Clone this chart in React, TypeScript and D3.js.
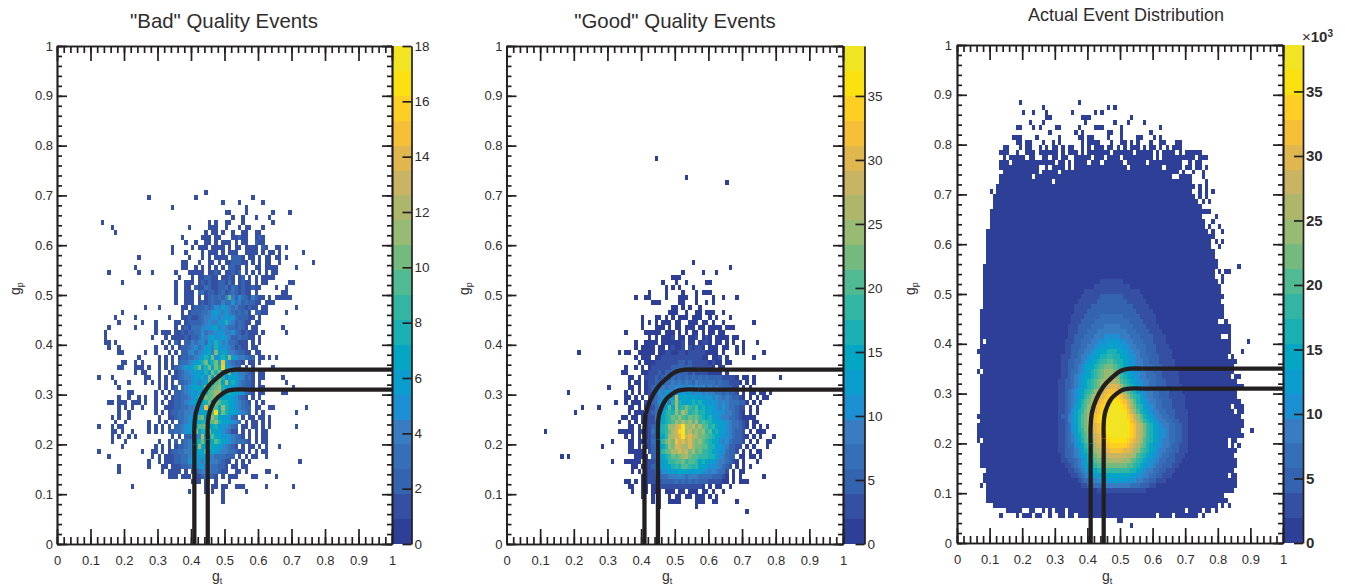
// App.tsx - three g_t / g_p event quality heat maps with cut lines
import { useEffect, useRef } from 'react';
import * as d3 from 'd3';

// colour bands, bottom to top of the palette
const bandColors = ['#2E3F97', '#354FA3', '#3463B0', '#356FB7', '#3A7CC2', '#1D8FD3', '#0A9DCE', '#04A6C3', '#1BB0B3', '#33B5A3',
  '#50BB92', '#74BA7F', '#97BB72', '#AEB66C', '#C9B464', '#E0B74F', '#F6BF38', '#FDCF25', '#FBE10F', '#F1E523'];

const axisTicks = [0, 0.1, 0.2, 0.3, 0.4, 0.5, 0.6, 0.7, 0.8, 0.9, 1];
const minorTicks = d3.range(0, 51).map((d) => d / 50);
const badBarTicks = [0, 2, 4, 6, 8, 10, 12, 14, 16, 18];
const goodBarTicks = [0, 5, 10, 15, 20, 25, 30, 35];
const alphabet = '0123456789abcdefghijklmnopqrstuvwxyzABC';

// cut curves as [g_t, g_p]: straight leg, bend, straight leg
const outerCut = [[0.41, 0], [0.41, 0.2], [0.41, 0.235], [0.414, 0.262], [0.428, 0.29], [0.45, 0.315], [0.475, 0.332], [0.503, 0.346], [0.53, 0.35], [0.57, 0.35], [1, 0.35]];
const innerCut = [[0.45, 0], [0.45, 0.21], [0.45, 0.24], [0.453, 0.258], [0.461, 0.275], [0.473, 0.2895], [0.49, 0.3], [0.509, 0.3076], [0.53, 0.31], [0.57, 0.31], [1, 0.31]];

// rows: [g_p bin, "first g_t bin:counts ..."], counts are base 36 with . for an empty bin
const badRows: [number, string][] = [
  [70, '44:1'], [69, '27:1 41:1 58:1'], [68, '49:1 54:1 61:1'], [67, '34:1 56:1'], [66, '50:11 56:1 64:1 69:1'],
  [65, '52:1 55:1 59:1 63:1'], [64, '13:1 45:1.1 50:11 55:1 64:1'], [63, '16:1 39:1 45:111 50:1 54:1.11 61:1'],
  [62, '17:1 44:1.11 49:1 52:1 55:11 59:11'], [61, '37:1 43:111.11 52:11211 59:121'],
  [60, '38:1 41:1 44:11.1.1 50:11.1.11 59:211'], [59, '34:1 40:1 42:111.1111.1.11.1111.21 65:11.1'],
  [58, '34:1 38:1 43:1.111.1.111..1111.1.11.1 73:1'], [57, '24:1 39:1 43:1.1.1111.2221.11.1.11.11.1'],
  [56, '37:11 42:1..11.1.1122211.1.1.11..1 76:1'], [55, '23:1 37:11 41:1.1.1.1.1.2211.1..11.1111 71:1'],
  [54, '15:1 24:1 28:1 35:1 39:11111.1121.11212.1.1.1.1.11'], [53, '36:1 40:1.112211.1121.12.1.1.1111'],
  [52, '19:1 35:1 38:111 42:12121122131.1211.1.11 69:11'], [51, '35:1 38:11 41:21132112231321211211 65:1 68:1'],
  [50, '35:1 38:111 42:2312212312321211.1 67:11'], [49, '35:1 38:111.1.1232324 51:9 52:4253214211 63:1.11 67:111'],
  [48, '35:1 38:111.1212322433534232211.111'], [47, '26:1 30:1 37:11.12223235465434221211.11 71:1'],
  [46, '19:1 37:1.1222334565464323231.2211 68:1'], [45, '17:1 23:1 33:1 37:1121123445545655322211.1'],
  [44, '18:1 25:1 29:1 35:11.12222345446585423211.11'], [43, '15:1 23:1 29:1 35:1.12133345567454332321.11 67:1'],
  [42, '14:1 29:1 31:111.1 35:1121223353445654453212111.1 68:1'], [41, '14:1 28:1 32:1.1111212235467556542232211.1'],
  [40, '14:11 17:1 31:1 33:1.21.2243453658645332111.1.1'], [39, '15:1 18:1 29:1 32:1.1.122345346748655431211.11'],
  [38, '18:11 26:1 29:1 33:1.1.2245345674a5764432211.11'], [37, '24:1 30:1.1 34:1.1223345687a5687b6544322.11.1 65:1'],
  [36, '19:11 23:1.1 30:1.1.1.23345678a78a7f643221.11.1'], [35, '18:11 23:111 27:1 30:1.1.12346578a68a7a8g65432.1.1 64:1'],
  [34, '23:1.1 26:1 30:1..1.12345567586a8a57a5644321.11'], [33, '12:1 16:1 26:11 30:1.1.11234456675a6ba8576654231.11 67:1'],
  [32, '17:1 21:1 26:1.1 30:1.1.1.223456457a89a7b68643221.1 68:1'], [31, '18:1 30:1.1.12.3456767a89ab8676543221.11 70:1'],
  [30, '21:11 29:1.1.1.22345657689abc7787665321.11 67:11'], [29, '18:1 21:1 24:1.1 29:1..1.1223345686a9ab876765321.1.1'],
  [28, '15:11 18:111 22:111.1 29:1.1.112234566578a6a9887654321.1.1'], [27, '18:1.1 22:1 25:1 29:1..111223344556f7a97b87654322.11..11 74:1'],
  [26, '18:1 21:1 29:1.1.122334455667a9h7a87765432.1.1 71:1'], [25, '16:1 18:1 21:1 30:1..1123345669a78b9766532.1.1 58:1.11.1'],
  [24, '17:1 20:1 27:1 30:1.1.1.234567788a9b8676543.1.11 61:1.1'], [23, '12:1 16:1.1 19:1 27:1.1.1.1.234566899a778565432.11 58:11.1.1 71:1'],
  [22, '16:11 19:1 22:1 27:1 29:1.1.22334567b688a77654311.1.1 59:1.11'], [21, '16:1 18:1 21:1.1 34:1.1.22345c789775654321.1.1 61:11'],
  [20, '16:1 20:1 30:1 33:1.2.2346 41:78a8679876543 54:3321.1.11'], [19, '19:1 29:1 31:1.1.1223456b76877654321.1.11 60:1.1 66:1'],
  [18, '12:1 25:1 28:11.1.1 33:1223344567695765443 52:3211.1.1.11'], [17, '15:1 28:1 30:1.1 33:1122334675754433 49:3222.1.1.11 62:1'],
  [16, '27:1 30:1.1 33:112233 39:5675465443211.1.1.1 72:1'], [15, '18:1 27:1 31:11.1 35:1122345 42:5644 46:33221.11.11'],
  [14, '18:1 31:1 33:1111.1.22344433211..11.1 62:11'], [13, '33:111.111.1123221.1.111 58:11 65:1'],
  [12, '40:111 44:1 47:1 51:1'], [11, '22:1 44:1.11 49:11 53:111 62:1 70:1'], [10, '39:1 44:1 46:1 49:1 56:1'], [9, '49:1'], [8, '49:1'],
];

const goodRows: [number, string][] = [
  [77, '44:1'], [73, '53:1'], [72, '65:1'], [56, '55:1'], [55, '66:1'], [54, '52:1 58:1 62:1'], [53, '49:111'],
  [52, '46:1 50:1 53:1 59:11'], [51, '47:1 49:1 51:1 55:1'], [50, '42:1 47:1 52:1 56:1 58:111'],
  [49, '38:1 41:11 47:1 51:111 56:1 61:1 64:1 68:1'], [48, '43:111 51:11 56:1 59:1 61:1'],
  [47, '49:11 52:1 54:1 57:1'], [46, '48:111 53:1 56:11 59:111 64:1'], [45, '40:1 44:11 47:1.1.1 52:11.111 60:1 62:1 66:1'],
  [44, '40:1 42:1 44:1 46:111.11 54:111.1 59:1 61:1 64:1 73:1'], [43, '40:1 44:111.1.1 51:1 53:111.11.11 62:11.11 67:1'],
  [42, '35:1 41:11111.111.1.1.11.1.11.1 63:11'], [41, '42:1.1.1112.11.112.121.1111.11'],
  [40, '38:1 41:1111.1111112.11.1221.11.1.1 70:1 74:1'], [39, '38:1 40:1111.11.12112.21221.111.11 68:1.1'],
  [38, '21:1 33:1 35:11 39:11111.112211221222221111.1 68:1.1 76:1'], [37, '38:1.111.1122222322322211.112.1 73:1'],
  [36, '39:1.11122233234434232221211.11'], [35, '35:1 38:1.1.12233334454443332221.11'],
  [34, '34:11 40:112334345454443433221111.1'], [33, '36:11.1.2 41:2325346564756475647554433321.11.1 81:1'],
  [32, '36:1.11.1 42:2345466878697586767656543221.1.1'], [31, '30:1 36:11.1.12 43:4689798b9a8a8a9a7978655433.1.1'],
  [30, '18:1 35:1.1.1.12 43:57a8cbbcadbc9ba8a987656543.1.1 73:1.1 76:1 78:1'],
  [29, '35:11.1.1.2 43:469acgdscfecedcbac8b97865431.1.1 76:11'], [28, '32:1 35:1.111.2 42:257ace9hqgfdegfhcdbca9a8767541.1.1 75:1'],
  [27, '22:1 27:1 36:11.1.12 43:368ackfrgimjgkfhdeca9c876532.1.1'], [26, '20:1 36:1.111.2 42:247adgjhoiqmgjkhgefbcaa986531.1.1'],
  [25, '34:11 37:11.112 43:38bfgimkpljnkmihfgdcb9876521.11 71:1'], [24, '33:1 36:1.1.112 43:26aegjkpmrmokqjliheedcb976531.1 71:1.11'],
  [23, '36:11.1.12 42:258dgioptvCrpsnrlkhiecdb976521.1.1.1 77:1'], [22, '11:1 33:1111 37:1.12 41:136aehjnrszBpsmqnojkfhcdb96542.1.111'],
  [21, '35:1.1.1.12 42:257cfioqsvAsuqrmnkihfdba864421.1.1 79:1'], [20, '31:1 36:11.112 42:26aeimqnwtuqvpnokjgfeb9a75442.1.1 77:11'],
  [19, '28:1 36:11.1.13 43:49cfipnusroupnmkkhgdca85432.1.1 77:1'], [18, '36:11111.2 42:258diknqoursnqkmjihfdaa7542.1.1.1 75:1'],
  [17, '16:1 18:1 38:1111.3 43:48bfhjmknoqnlkjiighfb9654.11.11.1'], [16, '31:1 35:11 37:111.13 43:37bdfijlkmjlkifgfdcb986531.1 74:1'],
  [15, '37:11.1 41:1246adfegjhlkihifecbaa8653.1.1.1'], [14, '37:1.1 41:12357abcdcefedcdcbb9a8763.1.11'],
  [13, '40:11234567988a97888677654431.1.1 76:1'], [12, '35:11 38:1 40:11223344556565646544332211.1.1 70:11'],
  [11, '36:11 40:11.1122222323223221.1 60:1.11 66:1'], [10, '37:1 40:11.111.111.11.111.11.1 64:1'],
  [9, '40:1 43:1.1..1.11.11.111.1.1'], [8, '43:1 45:1 48:1111 56:111 61:11 68:1'], [7, '45:1 56:1'], [6, '71:1'],
];

// actual distribution: thousands at the middle of each colour band
const distLevels = [1, 3, 5, 7, 9, 11, 12, 14, 16, 18, 20, 22, 24, 26, 28, 30, 32, 34, 36, 38];

// [g_p bin, first g_t bin, last g_t bin] of the filled body
const distBody: [number, number, number][] = [
  [77, 14, 71], [76, 13, 68], [75, 13, 68], [74, 14, 69], [73, 13, 71], [72, 13, 71], [71, 12, 72], [70, 12, 72], [69, 12, 72],
  [68, 11, 73], [67, 11, 74], [66, 10, 76], [65, 10, 74], [64, 10, 75], [63, 10, 75], [62, 9, 76], [61, 9, 77], [60, 9, 77],
  [59, 9, 77], [58, 9, 78], [57, 9, 78], [56, 9, 79], [55, 8, 79], [54, 8, 78], [53, 8, 78], [52, 8, 79], [51, 8, 80], [50, 8, 80],
  [49, 8, 81], [48, 8, 80], [47, 8, 81], [46, 7, 81], [45, 7, 81], [44, 7, 82], [43, 7, 83], [42, 7, 83], [41, 7, 83], [40, 7, 83],
  [39, 7, 83], [38, 6, 83], [37, 7, 84], [36, 7, 85], [35, 7, 84], [34, 6, 84], [33, 7, 85], [32, 7, 85], [31, 7, 87], [30, 7, 85],
  [29, 7, 85], [28, 7, 86], [27, 7, 87], [26, 7, 87], [25, 6, 86], [24, 7, 87], [23, 6, 87], [22, 6, 86], [21, 6, 87], [20, 6, 85],
  [19, 7, 86], [18, 7, 85], [17, 7, 85], [16, 7, 85], [15, 7, 85], [14, 6, 84], [13, 8, 85], [12, 8, 85], [11, 7, 85], [10, 9, 84],
  [9, 9, 81], [8, 9, 80], [7, 11, 79], [6, 15, 77], [5, 24, 73],
];

// sparse bins above and around the body
const distSpecks: [number, string][] = [
  [88, '19:1 37:1'], [87, '26:1 46:1 48:1'], [86, '20:1 23:1 27:1 35:1 42:1 44:1'], [85, '27:11 38:111 53:1'],
  [84, '22:1 26:1 39:1 48:1 52:1 57:1'], [83, '18:11 23:1 25:1 30:11 37:1 42:111 50:1 62:1'], [82, '28:1 36:1 38:1 46:11 50:1 59:1'],
  [81, '17:111 24:1 31:1 37:11 40:11 46:1 50:1 55:11 60:1 62:1'], [80, '18:11 21:11 26:1 29:1 31:1 38:1 40:1111 47:1 50:11 53:1 55:1 59:1 62:11 67:11'],
  [79, '14:11 19:1 21:11 25:1 27:1 29:11 32:1 34:11 38:1.1.111.11.1.1.111.1.11.1.1.111 66:111'],
  [78, '13:111 18:1 21:111.111111.1.111.1.1111111.111111.11111.1.1111.1.1111 74:1'],
  [77, '72:1.1.1 75:1'], [76, '71:1 73:11'], [75, '70:11.11 76:1'], [74, '72:1 75:1'], [73, '75:1'], [72, '76:1'], [71, '74:1 76:1'], [70, '10:1 74:1 76:1 78:1'],
  [69, '11:1 74:1 76:1'], [68, '75:1.1'], [66, '77:1'], [65, '79:1'], [64, '78:1'], [63, '77:1 80:1'], [62, '78:1 81:1'], [61, '76:1 78:1'], [60, '79:1 81:1'],
  [59, '80:1'], [55, '86:1'], [54, '80:1 82:1 83:1'], [53, '81:1'], [52, '81:1'], [40, '89:1'], [38, '87:1'], [33, '86:1'], [22, '90:1'], [3, '53:1'],
  [4, '49:11'], [5, '13:1 18:1 20:111 75:1'], [6, '79:1'], [7, '81:1 83:1'], [8, '81:11'],
];

// [g_p bin, g_t bins] that stay empty inside the body
const distHoles: [number, number[]][] = [
  [78, [16, 17, 35]], [77, [15, 21, 24, 25, 28, 31, 34, 35, 41, 45, 50, 60, 62]], [76, [16, 30, 33, 35, 40, 44, 51, 58]],
  [75, [25, 26, 28, 33, 35, 52, 63]], [74, [25, 31, 68]], [73, [23, 66, 67]], [72, [29]], [70, [72]],
  [44, [80, 81]], [41, [81, 82]], [37, [83]], [33, [84]], [27, [84]], [26, [85]], [20, [83]], [19, [83, 85]], [17, [85]], [14, [6, 7, 8]],
  [34, [7]], [40, [8]], [24, [6]], [20, [7]], [13, [83]], [11, [8]],
  [6, [20, 21, 24, 25, 27, 29, 33, 70, 75]], [5, [26, 27, 29, 30, 33, 36, 61, 66]],
];

// [g_p bin, first bin per level, last bin per level], list position + 1 is the colour band
const distContours: [number, number[], number[]][] = [
  [52, [44], [50]], [51, [42], [52]], [50, [39], [55]], [49, [38, 44], [56, 50]], [48, [37, 43], [57, 51]], [47, [36, 41], [58, 53]],
  [46, [36, 40], [59, 54]], [45, [35, 39, 44], [60, 55, 50]], [44, [35, 38, 42], [60, 56, 52]], [43, [34, 37, 41, 45], [61, 57, 53, 49]],
  [42, [34, 37, 40, 43], [62, 58, 54, 51]], [41, [34, 36, 39, 42, 45], [63, 59, 55, 52, 49]], [40, [33, 36, 38, 41, 43, 46], [63, 59, 56, 53, 51, 49]],
  [39, [33, 35, 38, 40, 42, 44, 47], [64, 60, 57, 54, 52, 50, 47]], [38, [33, 35, 37, 39, 41, 42, 44, 46], [65, 60, 57, 55, 53, 51, 50, 48]],
  [37, [32, 35, 37, 38, 40, 41, 43, 44, 46], [65, 61, 58, 55, 54, 52, 51, 49, 47]],
  [36, [32, 34, 36, 38, 39, 40, 41, 43, 44, 46], [66, 61, 58, 56, 54, 52, 51, 50, 48, 47]],
  [35, [32, 34, 36, 37, 38, 39, 40, 42, 43, 44, 45], [66, 62, 59, 56, 54, 53, 51, 50, 49, 48, 47]],
  [34, [32, 34, 35, 37, 38, 39, 40, 41, 42, 43, 44, 45], [67, 62, 59, 57, 55, 53, 52, 50, 50, 49, 48, 47]],
  [33, [32, 34, 35, 36, 37, 38, 39, 41, 42, 43, 44, 45], [67, 62, 60, 57, 55, 54, 52, 51, 50, 49, 49, 48]],
  [32, [31, 33, 35, 36, 37, 38, 39, 40, 41, 42, 43, 44, 45], [67, 63, 60, 58, 56, 54, 53, 52, 51, 50, 49, 49, 48]],
  [31, [31, 33, 35, 36, 37, 38, 39, 40, 41, 42, 43, 44, 45, 46, 47], [68, 63, 60, 58, 56, 55, 54, 53, 52, 51, 50, 50, 49, 49, 48]],
  [30, [31, 33, 34, 35, 36, 37, 38, 39, 40, 41, 42, 42, 43, 44, 45, 46], [68, 64, 61, 59, 57, 55, 54, 54, 53, 52, 51, 51, 50, 50, 49, 49]],
  [29, [31, 33, 34, 35, 36, 37, 38, 39, 39, 40, 41, 41, 42, 43, 44, 45, 46], [69, 64, 61, 59, 57, 56, 55, 55, 54, 53, 52, 52, 51, 51, 50, 50, 49]],
  [28, [31, 33, 34, 35, 36, 37, 37, 38, 39, 39, 40, 41, 41, 42, 43, 44, 45, 47], [69, 65, 62, 60, 58, 57, 56, 55, 54, 54, 53, 53, 52, 52, 51, 51, 50, 49]],
  [27, [31, 33, 34, 35, 36, 36, 37, 38, 38, 39, 40, 40, 41, 42, 42, 43, 44, 45, 47], [69, 65, 62, 60, 59, 57, 56, 56, 55, 54, 54, 53, 53, 52, 52, 51, 51, 50, 49]],
  [26, [31, 33, 34, 35, 35, 36, 37, 37, 38, 39, 39, 40, 41, 41, 42, 43, 44, 45, 46], [70, 66, 63, 61, 59, 58, 57, 56, 55, 55, 54, 54, 53, 53, 52, 52, 51, 51, 50]],
  [25, [31, 32, 34, 34, 35, 36, 36, 37, 38, 38, 39, 40, 40, 41, 42, 42, 43, 44, 46], [70, 66, 64, 62, 60, 59, 58, 57, 56, 56, 55, 55, 54, 54, 53, 53, 52, 51, 51]],
  [24, [31, 33, 34, 34, 35, 36, 36, 37, 38, 38, 39, 40, 40, 41, 42, 42, 43, 44, 45], [70, 67, 65, 63, 61, 60, 59, 58, 57, 56, 56, 55, 55, 54, 54, 53, 52, 52, 51]],
  [23, [31, 33, 34, 35, 35, 36, 37, 37, 38, 38, 39, 40, 40, 41, 42, 43, 44, 45, 46], [70, 68, 66, 64, 62, 61, 60, 59, 58, 57, 57, 56, 56, 55, 54, 54, 53, 52, 51]],
  [22, [31, 33, 34, 35, 35, 36, 37, 37, 38, 39, 39, 40, 41, 41, 42, 43, 44, 45, 46], [70, 68, 66, 64, 63, 61, 60, 59, 58, 57, 57, 56, 56, 55, 54, 54, 53, 52, 51]],
  [21, [31, 33, 34, 35, 36, 36, 37, 38, 38, 39, 40, 40, 41, 42, 43, 44, 45, 46, 47], [70, 68, 66, 64, 63, 61, 60, 59, 58, 57, 57, 56, 56, 55, 54, 54, 53, 52, 51]],
  [20, [31, 33, 34, 35, 36, 37, 37, 38, 39, 39, 40, 41, 42, 42, 43, 44, 45, 47], [70, 68, 66, 64, 62, 61, 60, 59, 58, 57, 56, 56, 55, 55, 54, 53, 52, 51]],
  [19, [31, 33, 34, 36, 36, 37, 38, 39, 39, 40, 41, 42, 42, 43, 44, 45, 47], [70, 67, 65, 64, 62, 60, 59, 58, 57, 57, 56, 55, 55, 54, 53, 52, 51]],
  [18, [31, 33, 35, 36, 37, 38, 38, 39, 40, 41, 41, 42, 43, 44, 45, 47], [70, 67, 65, 63, 61, 60, 59, 58, 57, 56, 55, 55, 54, 53, 52, 50]],
  [17, [32, 33, 35, 36, 37, 38, 39, 40, 41, 41, 42, 43, 44, 46], [69, 66, 64, 62, 61, 59, 58, 57, 56, 55, 54, 54, 53, 51]],
  [16, [32, 34, 36, 37, 38, 39, 40, 40, 41, 42, 43, 45, 47], [68, 66, 63, 61, 60, 58, 57, 56, 55, 54, 53, 52, 50]],
  [15, [33, 35, 36, 37, 38, 39, 40, 41, 42, 43, 45], [67, 65, 62, 60, 59, 57, 56, 55, 54, 53, 51]],
  [14, [34, 36, 37, 38, 39, 40, 41, 43, 45], [66, 63, 61, 59, 57, 56, 55, 54, 52]],
  [13, [35, 37, 38, 39, 40, 42, 44], [65, 62, 60, 58, 56, 54, 52]],
  [12, [37, 38, 39, 41, 43, 46], [63, 60, 58, 56, 54, 51]],
  [11, [38, 40, 42, 45], [60, 58, 55, 52]],
  [10, [43], [57]],
];

type Cell = { col: number; row: number; value: number };

function parseRows(rows: [number, string][]): Cell[] {
  const cells = new Map<string, Cell>();
  rows.forEach(([row, text]) => {
    text.split(' ').forEach((seg) => {
      const [start, run] = seg.split(':');
      [...run].forEach((ch, i) => {
        const col = +start + i;
        if (ch !== '.') cells.set(`${col},${row}`, { col, row, value: alphabet.indexOf(ch) });
      });
    });
  });
  return [...cells.values()];
}

function distCells(): Cell[] {
  const grid = new Map<string, Cell>();
  const put = (col: number, row: number, value: number) => grid.set(`${col},${row}`, { col, row, value });
  distBody.forEach(([row, a, b]) => d3.range(a, b + 1).forEach((col) => put(col, row, distLevels[0])));
  distHoles.forEach(([row, cols]) => cols.forEach((col) => grid.delete(`${col},${row}`)));
  parseRows(distSpecks).forEach((c) => put(c.col, c.row, distLevels[0]));
  distContours.forEach(([row, lefts, rights]) => {
    lefts.forEach((a, i) => d3.range(a, rights[i] + 1).forEach((col) => put(col, row, distLevels[i + 1])));
  });
  return [...grid.values()];
}

type PanelProps = {
  title: string; titleSize: number; titleY: number; cx: number;
  left: number; right: number; top: number; bottom: number; barRight: number;
  max: number; barTicks: number[]; cells: Cell[]; labelGap: number;
  barFont: { size: number; weight: string }; xLabelX: number; yLabelX: number;
};

const ink = '#231f20';
const textInk = '#2f2c2d';
const font = '"Liberation Sans", Arial, sans-serif';

function Panel(p: PanelProps) {
  const ref = useRef<SVGGElement>(null);
  const x = d3.scaleLinear().domain([0, 1]).range([p.left, p.right]);
  const y = d3.scaleLinear().domain([0, 1]).range([p.bottom, p.top]);
  const barY = d3.scaleLinear().domain([0, p.max]).range([p.bottom, p.top]);
  const color = d3.scaleQuantize<string>().domain([0, p.max]).range(bandColors);
  const bend = d3.line<number[]>().x((d) => x(d[0])).y((d) => y(d[1])).curve(d3.curveCatmullRom.alpha(0.5));
  const straight = d3.line<number[]>().x((d) => x(d[0])).y((d) => y(d[1]));

  useEffect(() => {
    const g = d3.select(ref.current);
    g.selectAll('*').remove();
    const fmt = (d: d3.NumberValue) => String(+(+d).toFixed(1));
    const draw = (axis: d3.Axis<d3.NumberValue>, tx: number, ty: number, labelled: boolean) => {
      const a = g.append('g').attr('transform', `translate(${tx},${ty})`).call(axis);
      a.selectAll('path,line').attr('stroke', ink).attr('stroke-width', 1.7);
      a.selectAll('text').attr('fill', textInk).attr('font-family', font).attr('font-size', 13);
      if (!labelled) a.selectAll('text').remove();
    };
    // all four sides have inward ticks, labels only on bottom and left
    draw(d3.axisBottom(x).tickValues(minorTicks).tickSize(-7).tickSizeOuter(0).tickFormat(() => ''), 0, p.bottom, false);
    draw(d3.axisTop(x).tickValues(minorTicks).tickSize(-7).tickSizeOuter(0).tickFormat(() => ''), 0, p.top, false);
    draw(d3.axisLeft(y).tickValues(minorTicks).tickSize(-5).tickSizeOuter(0).tickFormat(() => ''), p.left, 0, false);
    draw(d3.axisRight(y).tickValues(minorTicks).tickSize(-5).tickSizeOuter(0).tickFormat(() => ''), p.right, 0, false);
    draw(d3.axisBottom(x).tickValues(axisTicks).tickSize(-15).tickSizeOuter(0).tickPadding(12).tickFormat(fmt), 0, p.bottom, true);
    draw(d3.axisTop(x).tickValues(axisTicks).tickSize(-15).tickSizeOuter(0).tickFormat(() => ''), 0, p.top, false);
    draw(d3.axisLeft(y).tickValues(axisTicks).tickSize(-10).tickSizeOuter(0).tickPadding(p.labelGap).tickFormat(fmt), p.left, 0, true);
    draw(d3.axisRight(y).tickValues(axisTicks).tickSize(-10).tickSizeOuter(0).tickFormat(() => ''), p.right, 0, false);
    // palette axis
    const bar = g.append('g').attr('transform', `translate(${p.barRight},0)`)
      .call(d3.axisRight(barY).tickValues(p.barTicks).tickSize(-9).tickSizeOuter(0).tickPadding(3));
    bar.selectAll('path,line').attr('stroke', ink).attr('stroke-width', 1.7);
    bar.selectAll('text').attr('fill', textInk).attr('font-family', font)
      .attr('font-size', p.barFont.size).attr('font-weight', p.barFont.weight);
  }, []);

  const bandW = x(0.01) - x(0);
  const bandH = y(0) - y(0.01);
  const barBands = d3.range(20);
  return (
    <g>
      <text x={p.cx} y={p.titleY} textAnchor="middle" fontFamily={font} fontSize={p.titleSize} fill={textInk}>{p.title}</text>
      <g shapeRendering="crispEdges">
        {p.cells.map((c) => (
          <rect key={`${c.col},${c.row}`} x={x(c.col / 100)} y={y((c.row + 1) / 100)} width={bandW} height={bandH} fill={color(c.value)} />
        ))}
        {barBands.map((i) => (
          <rect key={i} x={p.right} y={barY(((i + 1) * p.max) / 20)} width={p.barRight - p.right} height={barY(0) - barY(p.max / 20)} fill={bandColors[i]} />
        ))}
      </g>
      {[outerCut, innerCut].map((cut, i) => (
        <g key={i} fill="none" stroke={ink} strokeWidth={4.3}>
          <path d={straight(cut.slice(0, 2)) ?? ''} />
          <path d={bend(cut.slice(1, -1)) ?? ''} />
          <path d={straight(cut.slice(-2)) ?? ''} />
        </g>
      ))}
      <g ref={ref} />
      <text x={p.xLabelX} y={581} fontFamily={font} fontSize={14} fill={textInk}>g<tspan fontSize={9} dy={3}>t</tspan></text>
      <text transform={`translate(${p.yLabelX},295) rotate(-90)`} fontFamily={font} fontSize={14} fill={textInk}>g<tspan fontSize={9} dy={3}>p</tspan></text>
    </g>
  );
}

export default function App() {
  const badCells = parseRows(badRows);
  const goodCells = parseRows(goodRows);
  return (
    <svg width={1345} height={587} style={{ position: 'absolute', left: 0, top: 0 }}>
      <Panel title={'"Bad" Quality Events'} titleSize={20.4} titleY={28} cx={224} left={57} right={392} top={46} bottom={544} barRight={411.5}
        max={18} barTicks={badBarTicks} cells={badCells} labelGap={4} barFont={{ size: 13.5, weight: 'normal' }} xLabelX={212} yLabelX={20} />
      <Panel title={'"Good" Quality Events'} titleSize={20.4} titleY={28} cx={675} left={506.5} right={843} top={46} bottom={544} barRight={864.5}
        max={38.9} barTicks={goodBarTicks} cells={goodCells} labelGap={4} barFont={{ size: 13.5, weight: 'normal' }} xLabelX={662} yLabelX={469} />
      <Panel title="Actual Event Distribution" titleSize={18} titleY={21} cx={1126} left={957} right={1283} top={45} bottom={543} barRight={1303}
        max={38.6} barTicks={goodBarTicks} cells={distCells()} labelGap={5} barFont={{ size: 15, weight: 'bold' }} xLabelX={1102} yLabelX={915} />
      <text x={1302} y={42} fontFamily={font} fontSize={15} fill={textInk}>×<tspan fontWeight="bold">10</tspan><tspan fontWeight="bold" fontSize={10} dy={-5}>3</tspan></text>
    </svg>
  );
}
